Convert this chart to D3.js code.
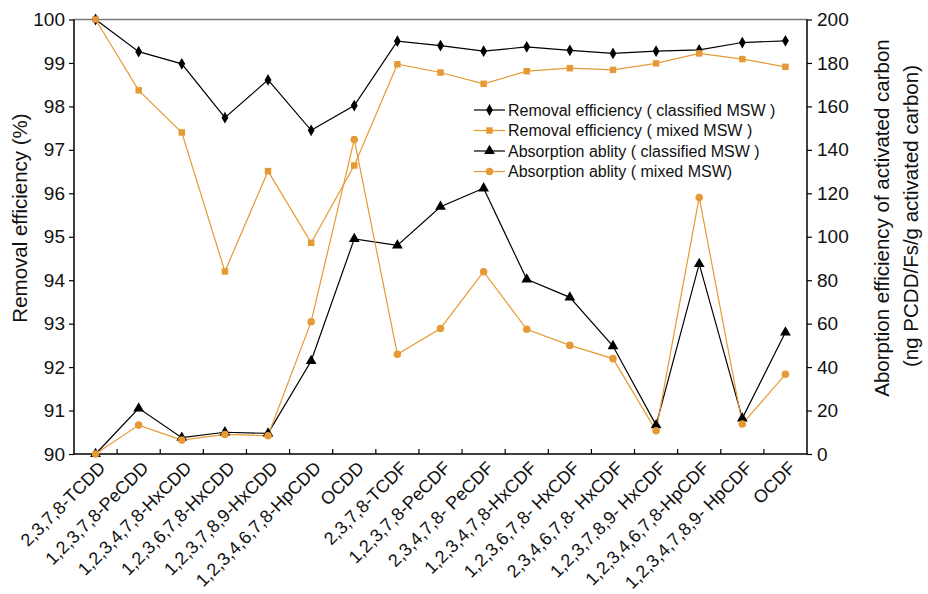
<!DOCTYPE html>
<html><head><meta charset="utf-8">
<script src="https://cdn.jsdelivr.net/npm/d3@7"></script>
<style>body{margin:0;background:#fff}text{font-family:"Liberation Sans",Arial,sans-serif}</style>
</head><body>
<svg id="c" width="928" height="594"></svg>
<script>
const categories = ["2,3,7,8-TCDD","1,2,3,7,8-PeCDD","1,2,3,4,7,8-HxCDD","1,2,3,6,7,8-HxCDD","1,2,3,7,8,9-HxCDD","1,2,3,4,6,7,8-HpCDD","OCDD","2,3,7,8-TCDF","1,2,3,7,8-PeCDF","2,3,4,7,8- PeCDF","1,2,3,4,7,8-HxCDF","1,2,3,6,7,8- HxCDF","2,3,4,6,7,8- HxCDF","1,2,3,7,8,9- HxCDF","1,2,3,4,6,7,8-HpCDF","1,2,3,4,7,8,9- HpCDF","OCDF"];
const removalClassified = [100,99.26,98.98,97.74,98.61,97.45,98.02,99.50,99.40,99.27,99.37,99.29,99.22,99.27,99.30,99.47,99.51];
const removalMixed = [100,98.37,97.40,94.20,96.51,94.86,96.64,98.97,98.78,98.52,98.81,98.88,98.84,98.99,99.22,99.09,98.91];
const absorbClassified = [0,21.0,7.5,10.0,9.5,42.8,99.0,96.0,113.8,122.3,80.4,72.1,49.7,13.3,87.5,16.4,56.0];
const absorbMixed = [0,13.3,6.4,9.0,8.4,60.9,144.8,45.9,57.8,83.9,57.4,50.0,43.9,10.7,118.1,13.8,36.7];
const leftTicks = [90,91,92,93,94,95,96,97,98,99,100];
const rightTicks = [0,20,40,60,80,100,120,140,160,180,200];
const legendLabels = ["Removal efficiency ( classified MSW )","Removal efficiency ( mixed MSW )","Absorption ablity ( classified MSW )","Absorption ablity ( mixed MSW)"];

const orange = "#E69A35";
const FONT = '"Liberation Sans",Arial,sans-serif';
const L = 74, R = 807, T = 19.5, B = 454;
const svg = d3.select("#c");
const x = d3.scaleBand().domain(categories).range([L, R]);
const yL = d3.scaleLinear().domain([90, 100]).range([B, T]);
const yR = d3.scaleLinear().domain([0, 200]).range([B, T]);
const cx = d => x(d) + x.bandwidth() / 2;

// top border
svg.append("line").attr("x1", L).attr("x2", R).attr("y1", T).attr("y2", T).attr("stroke", "#777").attr("stroke-width", 1.5);

// left axis
const gl = svg.append("g").attr("transform", `translate(${L},0)`)
  .call(d3.axisLeft(yL).tickValues(leftTicks).tickSize(5).tickPadding(4).tickFormat(d3.format("d")));
// right axis
const gr = svg.append("g").attr("transform", `translate(${R},0)`)
  .call(d3.axisRight(yR).tickValues(rightTicks).tickSize(5).tickPadding(5).tickFormat(d3.format("d")));
// bottom axis with ticks at band boundaries
const gb = svg.append("g").attr("transform", `translate(0,${B})`);
gb.append("line").attr("x1", L).attr("x2", R).attr("stroke", "#000").attr("stroke-width", 1.5);
gb.selectAll(".bt").data(categories.slice(1)).join("line")
  .attr("x1", d => x(d)).attr("x2", d => x(d)).attr("y1", 0).attr("y2", -5).attr("stroke", "#000").attr("stroke-width", 1.2);
gb.selectAll(".bl").data(categories).join("text")
  .attr("text-anchor", "end")
  .attr("transform", d => `translate(${cx(d) + 11},${15}) rotate(-45)`)
  .attr("font-size", 18).attr("fill", "#111").text(d => d);

[gl, gr].forEach(g => {
  g.select(".domain").attr("stroke", "#000").attr("stroke-width", 1.5);
  g.selectAll(".tick line").attr("stroke", "#000").attr("stroke-width", 1.2);
  g.selectAll(".tick text").attr("font-size", 19).attr("fill", "#111").style("font-family", FONT);
});
gl.select(".domain").attr("d", `M0,${B}V${T}`);
gr.select(".domain").attr("d", `M0,${B}V${T}`);

// titles
svg.append("text").attr("transform", `translate(27,218) rotate(-90)`).attr("text-anchor", "middle")
  .attr("font-size", 20.5).attr("fill", "#111").text("Removal efficiency (%)");
svg.append("text").attr("transform", `translate(889,218) rotate(-90)`).attr("text-anchor", "middle")
  .attr("font-size", 20.5).attr("fill", "#111").text("Aborption efficiency of activated carbon");
svg.append("text").attr("transform", `translate(918,216) rotate(-90)`).attr("text-anchor", "middle")
  .attr("font-size", 20.5).attr("fill", "#111").text("(ng PCDD/Fs/g activated carbon)");

const series = [
  {vals: removalClassified, y: yL, color: "#000", shape: d3.symbolDiamond, size: 40},
  {vals: removalMixed, y: yL, color: orange, shape: d3.symbolSquare, size: 42},
  {vals: absorbClassified, y: yR, color: "#000", shape: d3.symbolTriangle, size: 50},
  {vals: absorbMixed, y: yR, color: orange, shape: d3.symbolCircle, size: 45}
];
const line = (s) => d3.line().x((v, i) => cx(categories[i])).y(v => s.y(v));
series.forEach(s => {
  svg.append("path").attr("d", line(s)(s.vals)).attr("fill", "none").attr("stroke", s.color).attr("stroke-width", 1.2);
});
series.forEach(s => {
  svg.append("g").selectAll("path").data(s.vals).join("path")
    .attr("d", d3.symbol().type(s.shape).size(s.size))
    .attr("transform", (v, i) => `translate(${cx(categories[i])},${s.y(v)})`)
    .attr("fill", s.color);
});

// legend
const lg = svg.append("g").attr("transform", "translate(474,110)");
series.forEach((s, i) => {
  const g = lg.append("g").attr("transform", `translate(0,${i * 20.5})`);
  g.append("line").attr("x1", 0).attr("x2", 31).attr("stroke", s.color).attr("stroke-width", 1.2);
  g.append("path").attr("d", d3.symbol().type(s.shape).size(s.size)).attr("transform", "translate(15.5,0)").attr("fill", s.color);
  g.append("text").attr("x", 34).attr("dy", "0.35em").attr("font-size", 16).attr("fill", "#111").text(legendLabels[i]);
});
</script>
</body></html>
